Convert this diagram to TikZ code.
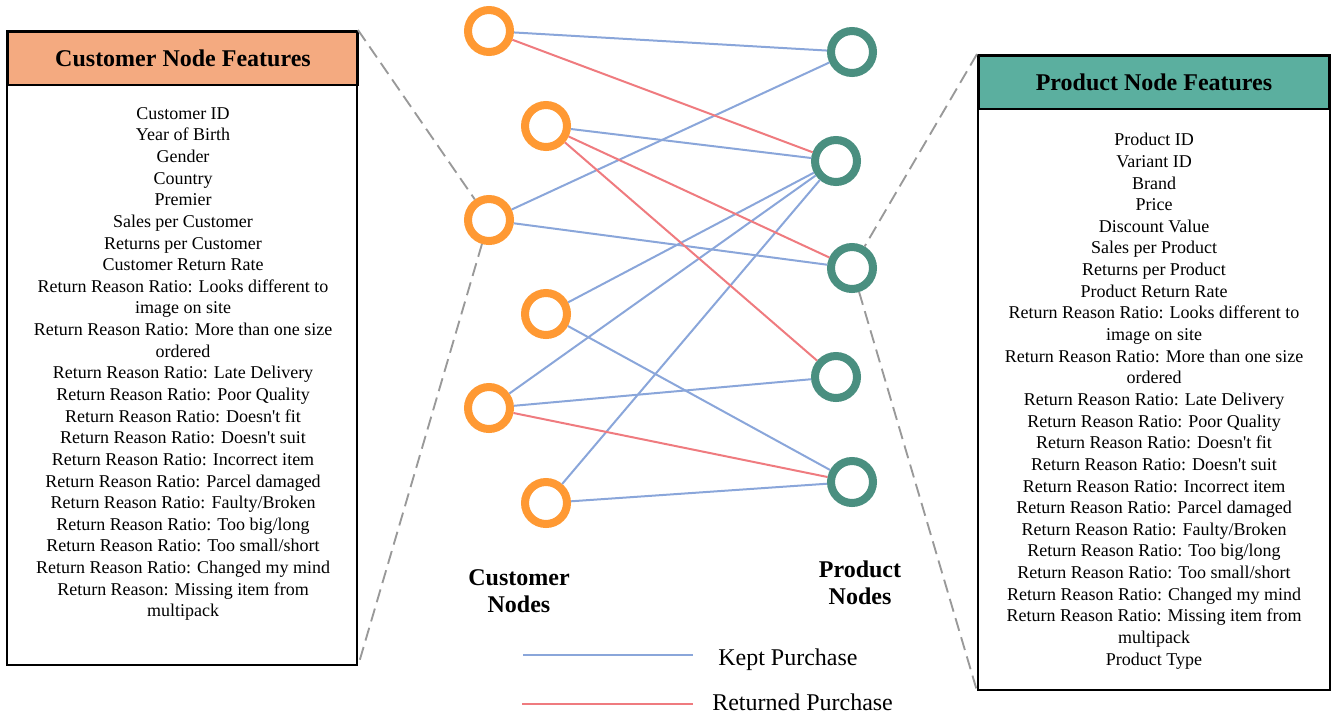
\documentclass[tikz,border=0pt]{standalone}
\usepackage{fontspec}
\setmainfont{Liberation Serif}
\usepackage{tikz}
\usetikzlibrary{positioning,fit}
\definecolor{custorange}{HTML}{FF9933}
\definecolor{prodteal}{HTML}{4A8F80}
\definecolor{custhead}{HTML}{F4AA80}
\definecolor{prodhead}{HTML}{5BAF9F}
\definecolor{keptblue}{HTML}{8AA6DA}
\definecolor{retred}{HTML}{EF7B7F}
\definecolor{dashgrey}{HTML}{999999}

\begin{document}
\begin{tikzpicture}[x=0.75pt,y=-0.75pt]
\tikzstyle{custnode}=[draw=custorange,circle,line width=6pt,fill=white,minimum size=31.5pt,inner sep=0pt]
\tikzstyle{prodnode}=[draw=prodteal,circle,line width=6pt,fill=white,minimum size=31.5pt,inner sep=0pt]
\tikzstyle{kept}=[draw=keptblue,line width=1.5pt]
\tikzstyle{returned}=[draw=retred,line width=1.5pt]
\tikzstyle{zoomline}=[draw=dashgrey,line width=1.4pt,dash pattern=on 10pt off 5pt]
\tikzstyle{header}=[draw,line width=1.5pt,anchor=north west,minimum width=262.5pt,minimum height=39.75pt,font=\fontsize{18}{21}\selectfont\bfseries]
\tikzstyle{frame}=[draw,line width=1.5pt,inner sep=0pt]
\tikzstyle{feat}=[align=center,inner sep=0pt,font=\fontsize{13.5}{16.23}\selectfont]
\tikzstyle{grouplabel}=[align=center,font=\fontsize{18}{20.25}\selectfont\bfseries]
\tikzstyle{legtext}=[font=\fontsize{18}{21}\selectfont,inner sep=0pt]

\useasboundingbox (0,0) rectangle (1341,715);

\node [header,fill=custhead] at (7,31) (chead) {Customer Node Features};
\node [frame,fit={(7,31) (357,665)}] (cbox) {};
\node [feat,below=15.75pt of chead.south] (cfeat) {Customer ID\\Year of Birth\\Gender\\Country\\Premier\\
Sales per Customer\\Returns per Customer\\Customer Return Rate\\
Return Reason Ratio: Looks different to\\image on site\\
Return Reason Ratio: More than one size\\ordered\\
Return Reason Ratio: Late Delivery\\Return Reason Ratio: Poor Quality\\
Return Reason Ratio: Doesn\textquotesingle t fit\\Return Reason Ratio: Doesn\textquotesingle t suit\\
Return Reason Ratio: Incorrect item\\Return Reason Ratio: Parcel damaged\\
Return Reason Ratio: Faulty/Broken\\Return Reason Ratio: Too big/long\\
Return Reason Ratio: Too small/short\\Return Reason Ratio: Changed my mind\\
Return Reason: Missing item from\\multipack};

\node [header,fill=prodhead] at (978,55) (phead) {Product Node Features};
\node [frame,fit={(978,55) (1330,690)}] (pbox) {};
\node [feat,below=17.25pt of phead.south] (pfeat) {Product ID\\Variant ID\\Brand\\Price\\Discount Value\\
Sales per Product\\Returns per Product\\Product Return Rate\\
Return Reason Ratio: Looks different to\\image on site\\
Return Reason Ratio: More than one size\\ordered\\
Return Reason Ratio: Late Delivery\\Return Reason Ratio: Poor Quality\\
Return Reason Ratio: Doesn\textquotesingle t fit\\Return Reason Ratio: Doesn\textquotesingle t suit\\
Return Reason Ratio: Incorrect item\\Return Reason Ratio: Parcel damaged\\
Return Reason Ratio: Faulty/Broken\\Return Reason Ratio: Too big/long\\
Return Reason Ratio: Too small/short\\Return Reason Ratio: Changed my mind\\
Return Reason Ratio: Missing item from\\multipack\\Product Type};

\node [custnode] at (489,31) (c1) {};
\node [custnode] at (546,126) (c2) {};
\node [custnode] at (489,220) (c3) {};
\node [custnode] at (546,314) (c4) {};
\node [custnode] at (489,408) (c5) {};
\node [custnode] at (546,503) (c6) {};
\node [prodnode] at (852,52) (p1) {};
\node [prodnode] at (836,161) (p2) {};
\node [prodnode] at (852,268) (p3) {};
\node [prodnode] at (836,377) (p4) {};
\node [prodnode] at (852,482) (p5) {};

\draw [kept] (c1) edge (p1);
\draw [kept] (c2) edge (p2);
\draw [kept] (c3) edge (p1);
\draw [kept] (c3) edge (p3);
\draw [kept] (c4) edge (p2);
\draw [kept] (c4) edge (p5);
\draw [kept] (c5) edge (p2);
\draw [kept] (c5) edge (p4);
\draw [kept] (c6) edge (p2);
\draw [kept] (c6) edge (p5);
\draw [returned] (c1) edge (p2);
\draw [returned] (c2) edge (p3);
\draw [returned] (c2) edge (p4);
\draw [returned] (c5) edge (p5);

\draw [zoomline] (cbox.north east) -- (c3);
\draw [zoomline] (c3) -- (cbox.south east);
\draw [zoomline] (pbox.north west) -- (p3);
\draw [zoomline] (p3) -- (pbox.south west);

\node [grouplabel] at (519,591) (clabel) {Customer\\Nodes};
\node [grouplabel] at (860,583) (plabel) {Product\\Nodes};

\coordinate (kept1) at (523,655);
\coordinate (kept2) at (693,655);
\coordinate (ret1) at (522,704);
\coordinate (ret2) at (693,704);
\draw [kept] (kept1) -- (kept2);
\draw [returned] (ret1) -- (ret2);
\node [legtext,right=18.75pt of kept2,yshift=-3.75pt] (keptlabel) {Kept Purchase};
\node [legtext,right=14.25pt of ret2,yshift=1.5pt] (retlabel) {Returned Purchase};
\end{tikzpicture}
\end{document}
